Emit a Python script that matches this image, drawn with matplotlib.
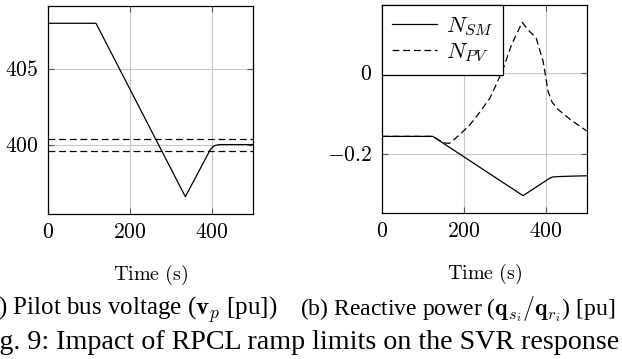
import matplotlib
matplotlib.use('Agg')
import matplotlib.pyplot as plt
import matplotlib.ticker as mticker

plt.rcParams['mathtext.fontset'] = 'cm'
plt.rcParams['font.family'] = ['Liberation Serif', 'DejaVu Serif']

# (a) pilot bus voltage
t_vp = [0, 117, 335, 396, 403, 410, 420, 440, 500]
vp = [408.0, 408.0, 396.56, 399.67, 399.88, 399.96, 400.0, 400.0, 400.0]
vp_band = [400.4, 399.6]

# (b) reactive power
t_sm = [0, 124, 344, 409, 416, 430, 460, 500]
n_sm = [-0.156, -0.156, -0.302, -0.259, -0.256, -0.255, -0.254, -0.253]
t_pv = [0, 124, 150, 165, 189, 214, 238, 263, 275, 295, 316, 342, 356, 376, 393,
        405, 415, 430, 460, 500]
n_pv = [-0.156, -0.156, -0.172, -0.173, -0.152, -0.128, -0.097, -0.062, -0.036,
        0.009, 0.07, 0.125, 0.107, 0.086, 0.029, -0.045, -0.072, -0.09, -0.115, -0.143]

W, H = 622, 359
fig = plt.figure(figsize=(W / 100, H / 100), dpi=100)


def px_axes(x0, y0, x1, y1):
    return fig.add_axes([x0 / W, 1 - y1 / H, (x1 - x0) / W, (y1 - y0) / H])


def style(ax, xt, yt, ylabels):
    ax.set_xlim(0, 500)
    ax.set_xticks(xt)
    ax.set_xticklabels(['$%d$' % v for v in xt])
    ax.set_yticks(yt)
    ax.set_yticklabels(ylabels)
    ax.tick_params(direction='in', length=4, width=0.8, top=True, right=True,
                   labelsize=15.5, pad=7, color='#555555')
    ax.grid(True, color='#c8c8c8', linewidth=0.8)
    ax.set_axisbelow(True)
    for s in ax.spines.values():
        s.set_linewidth(0.9)
    ax.set_xlabel(r'$\mathrm{Time\ (s)}$', fontsize=14.5, labelpad=14.5)


dash = (0, (5.5, 3))

ax1 = px_axes(48, 6, 253, 214)
ax1.plot(t_vp, vp, color='black', lw=0.9)
for v in vp_band:
    ax1.axhline(v, color='black', lw=0.9, linestyle=dash)
ax1.set_ylim(395.42, 409.14)
style(ax1, [0, 200, 400], [400, 405], ['$400$', '$405$'])

ax2 = px_axes(382, 5, 587, 213)
ax2.plot(t_sm, n_sm, color='black', lw=0.9, label='$N_{SM}$')
ax2.plot(t_pv, n_pv, color='black', lw=0.9, linestyle=dash, label='$N_{PV}$')
ax2.set_ylim(-0.3447, 0.1677)
style(ax2, [0, 200, 400], [-0.2, 0], [r'$-0.2$', '$0$'])
leg = ax2.legend(loc='upper left', bbox_to_anchor=(0, 1), borderaxespad=0,
                 fontsize=16.5, handlelength=1.95, handletextpad=0.4,
                 fancybox=False, framealpha=1, edgecolor='black',
                 borderpad=0.45, labelspacing=0.2)
leg.get_frame().set_linewidth(0.9)

fig.text(277 / W, 1 - 315 / H, r'(a) Pilot bus voltage ($\mathbf{v}_p$ [pu])',
         ha='right', va='baseline', fontsize=18)
fig.text(300 / W, 1 - 315 / H, r'(b) Reactive power ($\mathbf{q}_{s_i}/\mathbf{q}_{r_i}$) [pu]',
         ha='left', va='baseline', fontsize=17)
fig.text(619 / W, 1 - 349 / H, 'Fig. 9: Impact of RPCL ramp limits on the SVR response',
         ha='right', va='baseline', fontsize=20.2)

fig.savefig('out.png', dpi=100)
